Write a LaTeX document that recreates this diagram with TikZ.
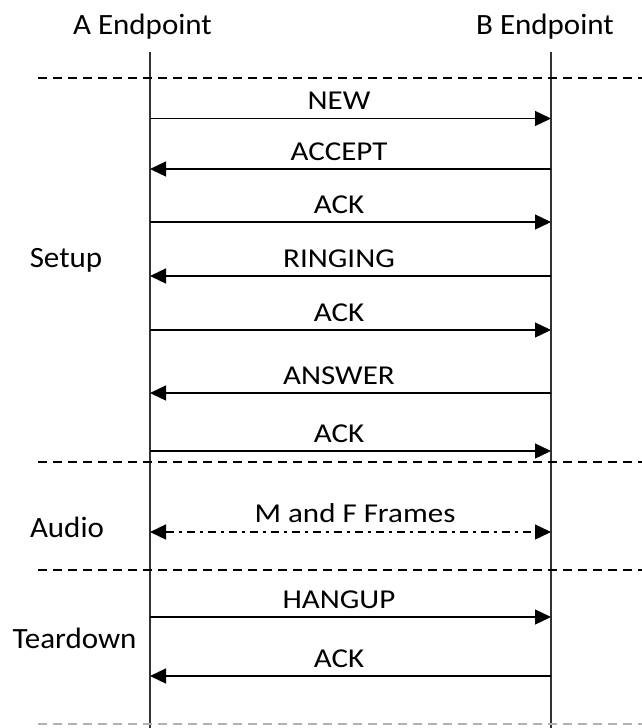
\documentclass[tikz,border=0pt]{standalone}
\usepackage{fontspec}
\setmainfont{Carlito}
\usetikzlibrary{arrows.meta}
\begin{document}
\begin{tikzpicture}[x=1pt,y=-1pt,
  lifeline/.style={line width=1.5pt, black!80},
  tip/.style={},
  msg/.style={line width=1.3pt, -{Triangle[length=16pt,width=15pt]}},
  sep/.style={line width=1.1pt, dash pattern=on 9pt off 6pt},
  lbl/.style={font=\fontsize{31}{34}\selectfont, inner sep=0pt, anchor=base, yscale=0.88},
  ttl/.style={font=\fontsize{31}{34}\selectfont, inner sep=0pt, anchor=base, yscale=0.95}]
\useasboundingbox (0,0) rectangle (642,728);
% titles
\node[ttl] (ta) at (142.5,34) {A Endpoint};
\node[ttl] (tb) at (545,34) {B Endpoint};
% lifelines
\coordinate (a0) at (150,52); \coordinate (a1) at (150,728);
\coordinate (b0) at (551,52); \coordinate (b1) at (551,728);
\draw[lifeline] (a0) -- (a1);
\draw[lifeline] (b0) -- (b1);
% separators
\coordinate (s1l) at (38,78); \coordinate (s1r) at (642,78);
\coordinate (s2l) at (38,462); \coordinate (s2r) at (642,462);
\coordinate (s3l) at (38,570); \coordinate (s3r) at (642,570);
\coordinate (s4l) at (38,724); \coordinate (s4r) at (642,724);
\draw[sep] (s1l) -- (s1r);
\draw[sep] (s2l) -- (s2r);
\draw[sep] (s3l) -- (s3r);
\draw[sep, black!30] (s4l) -- (s4r);
% phases
\node[ttl] (p1) at (66,267) {Setup};
\node[ttl] (p2) at (67,537) {Audio};
\node[ttl] (p3) at (74.5,648) {Teardown};
% messages
\foreach \y/\t/\d [count=\i] in {118.5/NEW/r,169/ACCEPT/l,222/ACK/r,276/RINGING/l,330/ACK/r,393/ANSWER/l,451/ACK/r,617/HANGUP/r,676/ACK/l}{
  \coordinate (ma\i) at (150,\y);
  \coordinate (mb\i) at (551,\y);
  \node[lbl] (ml\i) at (339,\y-9) {\t};
  \if r\d
    \draw[msg] (ma\i) -- (mb\i);
  \else
    \draw[msg] (mb\i) -- (ma\i);
  \fi
}
\coordinate (fa) at (150,532); \coordinate (fb) at (551,532);
\node[lbl] (fl) at (355,522) {M and F Frames};
\draw[line width=1.3pt, dash pattern=on 8pt off 5pt on 3pt off 5pt, {Triangle[length=16pt,width=15pt]}-{Triangle[length=16pt,width=15pt]}] (fa) -- (fb);
\end{tikzpicture}
\end{document}
